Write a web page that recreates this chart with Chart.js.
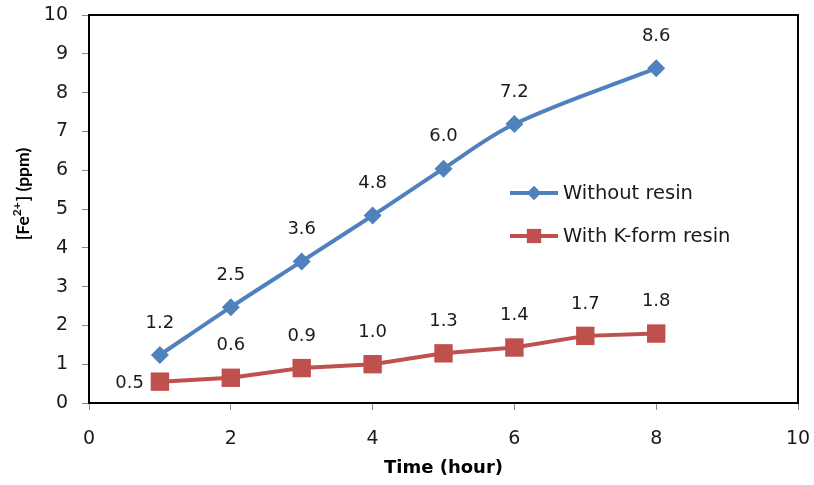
<!DOCTYPE html>
<html><head><meta charset="utf-8">
<script src="https://cdn.jsdelivr.net/npm/chart.js@4/dist/chart.umd.min.js"></script>
<style>html,body{margin:0;padding:0;background:#fff}#wrap{width:814px;height:485px}</style>
</head><body><div id="wrap"><canvas id="c" width="814" height="485"></canvas></div>
<script>
const timeWithout = [1, 2, 3, 4, 5, 6, 8];
const feWithout = [1.24, 2.47, 3.65, 4.83, 6.04, 7.19, 8.63];
const labelsWithout = ["1.2", "2.5", "3.6", "4.8", "6.0", "7.2", "8.6"];
const timeWith = [1, 2, 3, 4, 5, 6, 7, 8];
const feWith = [0.55, 0.65, 0.9, 1.0, 1.28, 1.43, 1.73, 1.79];
const labelsWith = ["0.5", "0.6", "0.9", "1.0", "1.3", "1.4", "1.7", "1.8"];
const seriesNames = ["Without resin", "With K-form resin"];
const xTicks = [0, 2, 4, 6, 8, 10];
const yTicks = [0, 1, 2, 3, 4, 5, 6, 7, 8, 9, 10];
const yTitleParts = ["[Fe", "2+", "] (ppm)"];

const BLUE = '#4F81BD', RED = '#C0504D';
const FONT = '"DejaVu Sans", sans-serif';
const TEXT = '#1a1a1a';

const valueLabels = {
  id: 'valueLabels',
  afterDatasetsDraw(chart) {
    const ctx = chart.ctx;
    ctx.save();
    ctx.font = '18px ' + FONT;
    ctx.fillStyle = TEXT;
    ctx.textBaseline = 'middle';
    chart.data.datasets.forEach((ds, i) => {
      const meta = chart.getDatasetMeta(i);
      meta.data.forEach((pt, j) => {
        const txt = ds.valueLabels[j];
        if (i === 1 && j === 0) {
          ctx.textAlign = 'right';
          ctx.fillText(txt, pt.x - 16, pt.y + 2);
        } else {
          ctx.textAlign = 'center';
          ctx.fillText(txt, pt.x, pt.y - 32);
        }
      });
    });
    ctx.restore();
  }
};

const frame = {
  id: 'frame',
  afterDraw(chart) {
    const a = chart.chartArea, ctx = chart.ctx;
    ctx.save();
    ctx.strokeStyle = '#000';
    ctx.lineWidth = 2;
    ctx.beginPath();
    ctx.moveTo(a.left, a.top); ctx.lineTo(a.right, a.top); ctx.lineTo(a.right, a.bottom);
    ctx.stroke();
    const items = [{c: BLUE, style: 'rectRot', r: 7, y: a.top + 178}, {c: RED, style: 'rect', r: 10, y: a.top + 221}];
    items.forEach((it, k) => {
      ctx.strokeStyle = it.c; ctx.lineWidth = 4;
      ctx.beginPath(); ctx.moveTo(510, it.y); ctx.lineTo(558, it.y); ctx.stroke();
      ctx.fillStyle = it.c;
      Chart.helpers.drawPoint(ctx, {pointStyle: it.style, radius: it.r, borderWidth: 0}, 534, it.y);
      ctx.fill();
      ctx.fillStyle = TEXT;
      ctx.font = '19.5px ' + FONT;
      ctx.textAlign = 'left'; ctx.textBaseline = 'middle';
      ctx.fillText(seriesNames[k], 563, it.y + 1);
    });
    // y axis title
    ctx.translate(23, 194);
    ctx.rotate(-Math.PI / 2);
    ctx.fillStyle = '#000';
    ctx.textBaseline = 'middle';
    ctx.textAlign = 'left';
    const big = 'bold 17.5px Lato, sans-serif', small = 'bold 12px Lato, sans-serif';
    ctx.font = big; const w0 = ctx.measureText(yTitleParts[0]).width;
    ctx.font = small; const w1 = ctx.measureText(yTitleParts[1]).width;
    ctx.font = big; const w2 = ctx.measureText(yTitleParts[2]).width;
    let x = -(w0 + w1 + w2 + 1) / 2;
    ctx.font = big; ctx.fillText(yTitleParts[0], x, 0); x += w0;
    ctx.font = small; ctx.fillText(yTitleParts[1], x, -6); x += w1 + 1;
    ctx.font = big; ctx.fillText(yTitleParts[2], x, 0);
    ctx.restore();
  }
};

new Chart(document.getElementById('c'), {
  type: 'line',
  data: {
    datasets: [
      {
        label: seriesNames[0],
        data: timeWithout.map((x, i) => ({x, y: feWithout[i]})),
        valueLabels: labelsWithout,
        borderColor: BLUE, backgroundColor: BLUE, borderWidth: 4,
        pointStyle: 'rectRot', pointRadius: 9, pointBorderWidth: 0,
        tension: 0.35, fill: false
      },
      {
        label: seriesNames[1],
        data: timeWith.map((x, i) => ({x, y: feWith[i]})),
        valueLabels: labelsWith,
        borderColor: RED, backgroundColor: RED, borderWidth: 4,
        pointStyle: 'rect', pointRadius: 13, pointBorderWidth: 0,
        tension: 0, fill: false
      }
    ]
  },
  options: {
    responsive: false,
    animation: false,
    layout: {padding: {left: 0, right: 16, top: 15, bottom: 0}},
    plugins: {legend: {display: false}, tooltip: {enabled: false}},
    scales: {
      x: {
        type: 'linear', min: 0, max: 10,
        afterBuildTicks: s => { s.ticks = xTicks.map(v => ({value: v})); },
        afterFit: s => { s.height = 82; s.paddingLeft = 0; s.paddingRight = 0; },
        grid: {drawOnChartArea: false, drawTicks: true, tickLength: 7, color: '#888', lineWidth: 1},
        border: {color: '#000', width: 2},
        ticks: {font: {family: FONT, size: 19}, color: TEXT, padding: 18},
        title: {display: true, text: 'Time (hour)', font: {family: FONT, size: 18, weight: 'bold'}, color: '#000', padding: {top: 4, bottom: 6}}
      },
      y: {
        type: 'linear', min: 0, max: 10,
        afterBuildTicks: s => { s.ticks = yTicks.map(v => ({value: v})); },
        afterFit: s => { s.width = 89; s.paddingTop = 0; s.paddingBottom = 0; },
        grid: {drawOnChartArea: false, drawTicks: true, tickLength: 7, color: '#888', lineWidth: 1},
        border: {color: '#000', width: 2},
        ticks: {font: {family: FONT, size: 19}, color: TEXT, padding: 14},
        title: {display: false}
      }
    }
  },
  plugins: [valueLabels, frame]
});
</script></body></html>
